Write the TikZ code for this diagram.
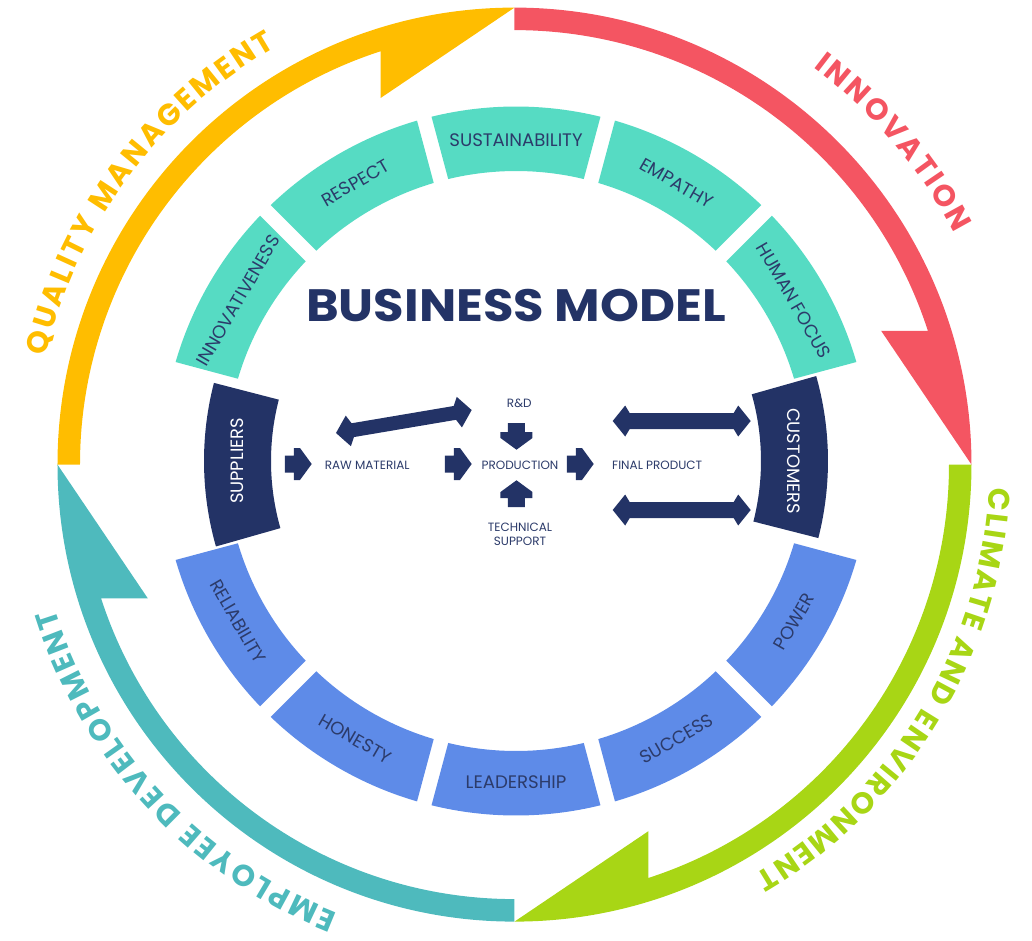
\documentclass[tikz,border=0pt]{standalone}
\usepackage{fontspec}
\setmainfont{Poppins}
\usetikzlibrary{decorations.text}

\definecolor{cyellow}{HTML}{FFBD00}
\definecolor{cred}{HTML}{F45562}
\definecolor{cgreen}{HTML}{A8D615}
\definecolor{cteal}{HTML}{4EBABD}
\definecolor{cmint}{HTML}{56DBC3}
\definecolor{cblue}{HTML}{5E8BE8}
\definecolor{cnavy}{HTML}{233366}
\definecolor{ctext}{HTML}{2C3B6A}

\newcommand\ringfont{\bfseries\fontsize{22.5}{26}\selectfont}

\tikzset{
  seglabel/.style={text=ctext, font=\fontsize{13.6}{15}\selectfont, inner sep=0pt},
  sidelabel/.style={text=white, font=\fontsize{13.4}{15}\selectfont, inner sep=0pt},
  flowlabel/.style={text=ctext, font=\fontsize{9}{10.6}\selectfont, inner sep=0pt, align=center},
  titlelabel/.style={text=cnavy, font=\bfseries\fontsize{34}{40}\selectfont, inner sep=0pt},
  ringtext/.style 2 args={decorate, decoration={text along path, text align={fit to path},
      text={|\ringfont\color{#1}|#2}}},
  pics/blockarrow/.style={code={
      \fill[cnavy] (0,-8.5) -- (9,-8.5) -- (9,-16) -- (15,-16) -- (26.7,0)
        -- (15,16) -- (9,16) -- (9,8.5) -- (0,8.5) -- cycle;}},
  pics/dblarrow/.style={code={
      \fill[cnavy] (0,0) -- (12.5,-15.5) -- (17,-8) -- ({#1-17},-8) -- ({#1-12.5},-15.5)
        -- (#1,0) -- ({#1-12.5},15.5) -- ({#1-17},8) -- (17,8) -- (12.5,15.5) -- cycle;}},
  pics/slantarrow/.style={code={
      \fill[cnavy] (0,0) -- (12.5,-15.5) -- (17,-7) -- ({#1-17},-7) -- ({#1-12.5},-15.5)
        -- (#1,0) -- ({#1-12.5},15.5) -- ({#1-17},7) -- (17,7) -- (12.5,15.5) -- cycle;}}
}

\begin{document}
\begin{tikzpicture}[x=0.75pt,y=0.75pt]
\useasboundingbox (-514.5,-475.4) rectangle (517.5,464.6);

% outer cycle: four quarter arrows, each ending in a wedge head
\foreach \a/\c in {90/cyellow,0/cred,-90/cgreen,-180/cteal}{
  \pgfmathsetmacro\sa{\a+90}
  \pgfmathsetmacro\pa{\a+20.05}
  \pgfmathsetmacro\qa{\a+17.93}
  \fill[\c] (\sa:457) arc[start angle=\sa, end angle=\a, radius=457]
    -- (\pa:390.3) -- (\qa:434.5) arc[start angle=\qa, end angle=\sa, radius=434.5] -- cycle;
}

% ring captions
\path[ringtext={cyellow}{QUALITY MANAGEMENT}] (167:481) arc[start angle=167, end angle=119.8, radius=481];
\path[ringtext={cred}{INNOVATION}] (53:497) arc[start angle=53, end angle=27.7, radius=497];
\path[ringtext={cgreen}{CLIMATE AND ENVIRONMENT}] (-2.8:475) arc[start angle=-2.8, end angle=-59.6, radius=475];
\path[ringtext={cteal}{EMPLOYEE DEVELOPMENT}] (-111.5:482) arc[start angle=-111.5, end angle=-162.6, radius=482];

% values ring
\begin{scope}[shift={(1.5,3.6)}]
\foreach \c/\col/\txt/\rot/\nm in {
    30/cmint/HUMAN FOCUS/-60/humanfocus,
    60/cmint/EMPATHY/-30/empathy,
    90/cmint/SUSTAINABILITY/0/sustainability,
    120/cmint/RESPECT/30/respect,
    150/cmint/INNOVATIVENESS/60/innovativeness,
    210/cblue/RELIABILITY/-60/reliability,
    240/cblue/HONESTY/-30/honesty,
    270/cblue/LEADERSHIP/0/leadership,
    300/cblue/SUCCESS/30/success,
    330/cblue/POWER/60/power}{
  \pgfmathsetmacro\oa{\c-15+1.212}
  \pgfmathsetmacro\ob{\c+15-1.212}
  \pgfmathsetmacro\ia{\c-15+1.482}
  \pgfmathsetmacro\ib{\c+15-1.482}
  \fill[\col] (\oa:354.5) arc[start angle=\oa, end angle=\ob, radius=354.5]
    -- (\ib:290) arc[start angle=\ib, end angle=\ia, radius=290] -- cycle;
  \node[seglabel, rotate=\rot] (\nm) at (\c:321) {\txt};
}

% suppliers and customers
\fill[cnavy] (165.5:312) arc[start angle=165.5, end angle=195.9, radius=312]
  -- (195.9:245) arc[start angle=195.9, end angle=165.5, radius=245] -- cycle;
\fill[cnavy] (-14.3:312) arc[start angle=-14.3, end angle=15.8, radius=312]
  -- (15.8:245) arc[start angle=15.8, end angle=-14.3, radius=245] -- cycle;
\end{scope}

% centre: value chain, in image-space coordinates
\begin{scope}[shift={(-514.5,464.6)}, yscale=-1]
  \node[titlelabel] (title) at (516,306) {\scalebox{1.094}[1]{BUSINESS MODEL}};
  \node[sidelabel, rotate=90] (suppliers) at (237.3,461) {SUPPLIERS};
  \node[sidelabel, rotate=-90] (customers) at (794,461) {CUSTOMERS};

  \node[flowlabel] (raw) at (367.2,465) {RAW MATERIAL};
  \node[flowlabel] (prod) at (520,465) {PRODUCTION};
  \node[flowlabel] (final) at (657.2,465) {FINAL PRODUCT};
  \node[flowlabel] (rd) at (519.3,403.3) {R\&D};
  \node[flowlabel] (tech) at (520,534) {TECHNICAL\\SUPPORT};

  \pic at (285,464) {blockarrow};
  \pic at (445,464) {blockarrow};
  \pic at (567,464) {blockarrow};
  \pic[rotate=-90] at (516.5,423) {blockarrow};
  \pic[rotate=90] at (516.5,507) {blockarrow};

  \pic[rotate=9.6] at (336,433) {slantarrow=137.6};
  \pic at (612.7,421) {dblarrow=138};
  \pic at (612.7,510) {dblarrow=138};
\end{scope}
\end{tikzpicture}
\end{document}
